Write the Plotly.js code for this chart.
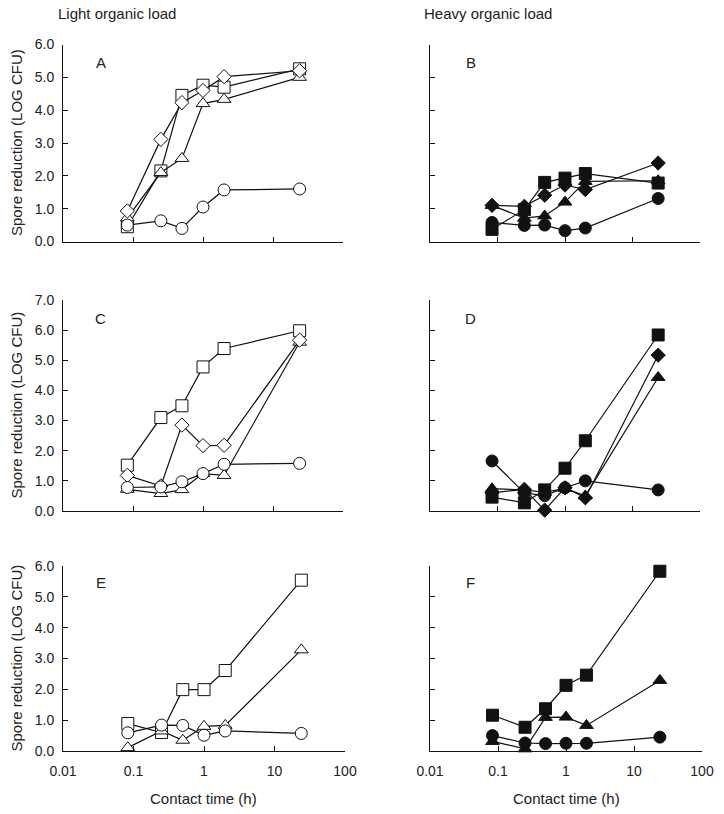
<!DOCTYPE html>
<html>
<head>
<meta charset="utf-8">
<script src="https://cdn.plot.ly/plotly-3.0.1.min.js"></script>
<style>html,body{margin:0;padding:0;background:#fff}#chart{width:724px;height:814px}</style>
</head>
<body>
<div id="chart"></div>
<script>
// Contact times (h)
var times = [0.083, 0.25, 0.5, 1, 2, 24];
var xTickVals = [0.01, 0.1, 1, 10, 100];
var xTickText = ["0.01", "0.1", "1", "10", "100"];
var columnTitles = ["Light organic load", "Heavy organic load"];
var panelLabels = ["A", "B", "C", "D", "E", "F"];
var yTitle = "Spore reduction (LOG CFU)";
var xTitle = "Contact time (h)";

// Panel A (light load)
var A_circle   = [0.50, 0.63, 0.40, 1.05, 1.57, 1.60];
var A_square   = [0.45, 2.15, 4.45, 4.76, 4.70, 5.26];
var A_diamond  = [0.93, 3.11, 4.23, 4.60, 5.02, 5.20];
var A_triangle = [0.72, 2.10, 2.53, 4.20, 4.33, 5.00];
// Panel B (heavy load)
var B_circle   = [0.58, 0.49, 0.50, 0.33, 0.41, 1.31];
var B_square   = [0.37, 0.97, 1.80, 1.93, 2.07, 1.78];
var B_diamond  = [1.10, 1.07, 1.41, 1.72, 1.58, 2.39];
var B_triangle = [1.10, 0.71, 0.78, 1.20, 1.83, 1.85];
// Panel C (light load)
var C_circle   = [0.78, 0.80, 0.97, 1.24, 1.55, 1.58];
var C_square   = [1.52, 3.10, 3.49, 4.78, 5.39, 5.98];
var C_diamond  = [1.18, 0.83, 2.85, 2.17, 2.18, 5.67];
var C_triangle = [0.72, 0.58, 0.71, 1.24, 1.18, 5.60];
// Panel D (heavy load)
var D_circle   = [1.66, 0.60, 0.51, 0.77, 1.00, 0.70];
var D_square   = [0.46, 0.27, 0.70, 1.42, 2.33, 5.84];
var D_diamond  = [0.60, 0.72, 0.03, 0.77, 0.44, 5.17];
var D_triangle = [0.74, 0.70, 0.62, 0.75, 0.50, 4.43];
// Panel E (light load)
var E_circle   = [0.59, 0.84, 0.83, 0.51, 0.65, 0.57];
var E_square   = [0.89, 0.60, 1.99, 1.99, 2.61, 5.54];
var E_triangle = [0.11, 0.65, 0.35, 0.80, 0.83, 3.28];
// Panel F (heavy load)
var F_circle   = [0.50, 0.26, 0.24, 0.25, 0.25, 0.45];
var F_square   = [1.16, 0.77, 1.37, 2.13, 2.46, 5.83];
var F_triangle = [0.31, 0.07, 1.09, 1.10, 0.83, 2.29];

var W = 724, H = 814;
function dx(a, b) { return [a / W, b / W]; }
function dy(top, bottom) { return [1 - bottom / H, 1 - top / H]; }

var panels = [
  {n: 1, label: panelLabels[0], open: true,  ymax: 6, x: [63, 343], y: [44.5, 241.5], series: [["square", A_square], ["triangle-up", A_triangle], ["diamond", A_diamond], ["circle", A_circle]]},
  {n: 2, label: panelLabels[1], open: false, ymax: 6, x: [430, 700], y: [44.5, 241.5], series: [["square", B_square], ["triangle-up", B_triangle], ["diamond", B_diamond], ["circle", B_circle]]},
  {n: 3, label: panelLabels[2], open: true,  ymax: 7, x: [63, 343], y: [300, 511], series: [["square", C_square], ["triangle-up", C_triangle], ["diamond", C_diamond], ["circle", C_circle]]},
  {n: 4, label: panelLabels[3], open: false, ymax: 7, x: [430, 700], y: [300, 511], series: [["square", D_square], ["triangle-up", D_triangle], ["diamond", D_diamond], ["circle", D_circle]]},
  {n: 5, label: panelLabels[4], open: true,  ymax: 6, x: [63, 345], y: [566, 751], series: [["square", E_square], ["triangle-up", E_triangle], ["circle", E_circle]]},
  {n: 6, label: panelLabels[5], open: false, ymax: 6, x: [430, 702], y: [566, 751], series: [["square", F_square], ["triangle-up", F_triangle], ["circle", F_circle]]}
];

var FONT = "Liberation Sans, Arial, sans-serif";
var TXT = "#222";
var traces = [];
var layout = {
  width: W, height: H,
  margin: {l: 0, r: 0, t: 0, b: 0},
  paper_bgcolor: "#fff", plot_bgcolor: "rgba(0,0,0,0)",
  showlegend: false,
  font: {family: FONT, size: 14, color: TXT},
  annotations: []
};

var sizes = {"square": 12, "triangle-up": 12, "diamond": 11, "circle": 12};

panels.forEach(function (p) {
  var xa = "x" + (p.n === 1 ? "" : p.n), ya = "y" + (p.n === 1 ? "" : p.n);
  p.series.forEach(function (s) {
    traces.push({
      type: "scatter", mode: "lines+markers",
      x: times, y: s[1], xaxis: xa, yaxis: ya,
      line: {color: "#111", width: 1.2},
      marker: {symbol: s[0], size: sizes[s[0]], color: p.open ? "#fff" : "#111",
               line: {color: "#111", width: 1}},
      cliponaxis: false
    });
  });
  var bottom = p.n >= 5, left = (p.n % 2 === 1);
  var yticks = [];
  for (var v = 0; v <= p.ymax; v++) yticks.push(v);
  layout["xaxis" + (p.n === 1 ? "" : p.n)] = {
    type: "log", range: [-2, 2], domain: dx(p.x[0], p.x[1]), anchor: ya,
    tickmode: "array", tickvals: xTickVals, ticktext: xTickText,
    showticklabels: bottom, ticks: "inside", ticklen: 5, tickwidth: 1, tickcolor: "#111",
    ticklabelstandoff: 7,
    showline: true, linecolor: "#111", linewidth: 1, showgrid: false, zeroline: false,
    tickfont: {family: FONT, size: 14, color: TXT}
  };
  layout["yaxis" + (p.n === 1 ? "" : p.n)] = {
    range: [0, p.ymax], domain: dy(p.y[0], p.y[1]), anchor: xa,
    tickmode: "array", tickvals: yticks, tickformat: ".1f",
    showticklabels: left, ticks: "inside", ticklen: 5, tickwidth: 1, tickcolor: "#111",
    ticklabelstandoff: 5,
    showline: true, linecolor: "#111", linewidth: 1, showgrid: false, zeroline: false,
    tickfont: {family: FONT, size: 14, color: TXT}
  };
  layout.annotations.push({
    xref: xa + " domain", yref: ya + " domain",
    x: p.n % 2 === 1 ? 0.135 : 0.15, y: 0.91,
    text: p.label, showarrow: false, xanchor: "center", yanchor: "middle",
    font: {family: FONT, size: 15, color: TXT}
  });
  if (left) {
    layout.annotations.push({
      xref: "paper", yref: ya + " domain", x: 16 / W, y: 0.5,
      text: yTitle, textangle: -90, showarrow: false, xanchor: "center", yanchor: "middle",
      font: {family: FONT, size: 15, color: TXT}
    });
  }
  if (bottom) {
    layout.annotations.push({
      xref: xa + " domain", yref: "paper", x: 0.5, y: 1 - 798 / H,
      text: xTitle, showarrow: false, xanchor: "center", yanchor: "middle",
      font: {family: FONT, size: 15, color: TXT}
    });
  }
});

layout.annotations.push({xref: "paper", yref: "paper", x: 117 / W, y: 1 - 13 / H, text: columnTitles[0], showarrow: false, xanchor: "center", yanchor: "middle", font: {family: FONT, size: 15, color: TXT}});
layout.annotations.push({xref: "paper", yref: "paper", x: 488 / W, y: 1 - 13 / H, text: columnTitles[1], showarrow: false, xanchor: "center", yanchor: "middle", font: {family: FONT, size: 15, color: TXT}});

Plotly.newPlot("chart", traces, layout, {displayModeBar: false, staticPlot: true});
</script>
</body>
</html>
